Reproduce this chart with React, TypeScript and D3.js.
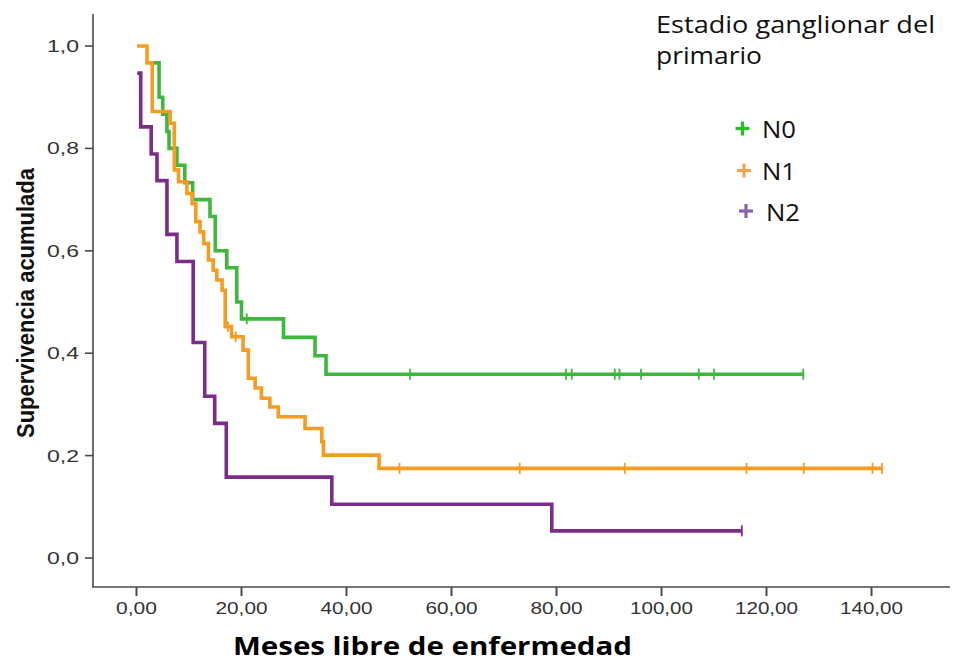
import React from "react";
import * as d3 from "d3";

// ---- data ----
const xTicks = [0, 20, 40, 60, 80, 100, 120, 140];
const yTicks = [0, 0.2, 0.4, 0.6, 0.8, 1.0];

const n0Times = [2.5, 4.3, 5.0, 5.8, 6.2, 7.7, 9.2, 10.7, 14.0, 15.0, 17.2, 19.1, 20.0, 28.0, 34.0, 36.1];
const n0Surv = [0.967, 0.9, 0.867, 0.833, 0.8, 0.767, 0.733, 0.7, 0.667, 0.6, 0.567, 0.5, 0.467, 0.431, 0.395, 0.359];
const n0Censored = [21.0, 52.1, 81.8, 82.9, 91.1, 92.0, 96.1, 107.1, 110.0, 127.0];

const n1Times = [0.1, 2.0, 3.0, 6.4, 7.2, 8.0, 9.6, 10.6, 11.3, 12.1, 12.8, 13.7, 14.6, 15.3, 16.3, 16.9, 18.1, 20.3, 21.3, 22.6, 23.8, 25.4, 27.0, 32.1, 35.3, 35.6, 46.2];
const n1Surv = [1.0, 0.967, 0.872, 0.849, 0.758, 0.735, 0.712, 0.692, 0.657, 0.637, 0.614, 0.582, 0.562, 0.543, 0.523, 0.452, 0.432, 0.406, 0.351, 0.332, 0.312, 0.295, 0.276, 0.253, 0.227, 0.201, 0.175];
const n1Censored = [17.4, 18.9, 50.1, 73.0, 93.0, 116.2, 127.1, 140.2, 142.0];

const n2Times = [0.15, 0.8, 2.8, 3.9, 5.8, 7.7, 10.8, 13.0, 14.9, 17.1, 37.2, 79.1];
const n2Surv = [0.947, 0.842, 0.789, 0.737, 0.632, 0.579, 0.421, 0.316, 0.263, 0.158, 0.105, 0.053];
const n2Censored = [115.3];

const seriesNames = ["N0", "N1", "N2"];
const lineColors = ["#3db83d", "#f59d22", "#7a2c89"];
const legendColors = ["#22c422", "#f8a84a", "#8a62a8"];

const series = [
  { times: n0Times, surv: n0Surv, cens: n0Censored },
  { times: n1Times, surv: n1Surv, cens: n1Censored },
  { times: n2Times, surv: n2Surv, cens: n2Censored },
];

// step value at t
function survAt(times: number[], surv: number[], t: number) {
  let s = surv[0];
  for (let i = 0; i < times.length; i++) if (times[i] <= t) s = surv[i];
  return s;
}

export default function App() {
  const x = d3.scaleLinear().domain([0, 140]).range([136.5, 871.5]);
  const y = d3.scaleLinear().domain([0, 1]).range([558, 46]);
  const axisColor = "#4a4a4a";
  const tickFont = "'Liberation Sans', Arial, sans-serif";
  const fmtX = (v: number) => v.toFixed(2).replace(".", ",");
  const fmtY = (v: number) => v.toFixed(1).replace(".", ",");

  const line = d3
    .line<[number, number]>()
    .x((d) => x(d[0]))
    .y((d) => y(d[1]))
    .curve(d3.curveStepAfter);

  return (
    <svg
      width={961}
      height={662}
      style={{ position: "absolute", left: 0, top: 0, background: "#fff" }}
    >
      {/* axes */}
      <line x1={93} y1={14} x2={93} y2={587} stroke={axisColor} strokeWidth={1.6} />
      <line x1={92} y1={587} x2={950} y2={587} stroke={axisColor} strokeWidth={1.6} />
      {yTicks.map((t) => (
        <g key={"y" + t}>
          <line x1={85} x2={93} y1={y(t)} y2={y(t)} stroke={axisColor} strokeWidth={1.6} />
          <text
            x={79}
            y={y(t) + 6}
            textAnchor="end"
            fontFamily={tickFont}
            fontSize={16.5}
            fill="#333"
            textLength={32}
            lengthAdjust="spacingAndGlyphs"
          >
            {fmtY(t)}
          </text>
        </g>
      ))}
      {xTicks.map((t) => {
        const lbl = fmtX(t);
        const digits = lbl.length - 1;
        return (
          <g key={"x" + t}>
            <line x1={x(t)} x2={x(t)} y1={587} y2={596} stroke={axisColor} strokeWidth={2} />
            <text
              x={x(t)}
              y={614}
              textAnchor="middle"
              fontFamily={tickFont}
              fontSize={16.5}
              fill="#333"
              textLength={11 * digits + 8}
              lengthAdjust="spacingAndGlyphs"
            >
              {lbl}
            </text>
          </g>
        );
      })}

      {/* curves */}
      {series.map((s, i) => {
        const pts: [number, number][] = s.times.map((t, j) => [t, s.surv[j]]);
        const end = Math.max(s.times[s.times.length - 1], ...s.cens);
        pts.push([end, s.surv[s.surv.length - 1]]);
        return (
          <g key={"s" + i}>
            <path d={line(pts) || ""} fill="none" stroke={lineColors[i]} strokeWidth={3.6} />
            {s.cens.map((c, k) => {
              const yy = y(survAt(s.times, s.surv, c));
              return (
                <line
                  key={k}
                  x1={x(c)}
                  x2={x(c)}
                  y1={yy - 5.5}
                  y2={yy + 5.5}
                  stroke={lineColors[i]}
                  strokeWidth={1.8}
                />
              );
            })}
          </g>
        );
      })}

      {/* axis titles */}
      <text
        transform="translate(34,303) rotate(-90)"
        textAnchor="middle"
        fontFamily="'Liberation Sans Narrow', 'Liberation Sans', Arial, sans-serif"
        fontWeight="bold"
        fontSize={23}
        fill="#111"
        textLength={270}
        lengthAdjust="spacingAndGlyphs"
      >
        Supervivencia acumulada
      </text>
      <text
        x={233}
        y={655}
        fontFamily="'Open Sans', sans-serif"
        fontWeight="bold"
        fontSize={25}
        fill="#000"
        textLength={399}
        lengthAdjust="spacingAndGlyphs"
      >
        Meses libre de enfermedad
      </text>

      {/* legend */}
      <text x={656} y={33} fontFamily="'Open Sans', sans-serif" fontSize={23} fill="#111" textLength={279} lengthAdjust="spacingAndGlyphs">
        Estadio ganglionar del
      </text>
      <text x={656} y={64} fontFamily="'Open Sans', sans-serif" fontSize={23} fill="#111" textLength={106} lengthAdjust="spacingAndGlyphs">
        primario
      </text>
      {seriesNames.map((n, i) => {
        const cy = [128.5, 170.5, 211][i];
        const cx = [742.5, 744, 746][i];
        const tx = [762, 762, 766][i];
        return (
          <g key={n}>
            <line x1={cx - 7} x2={cx + 7} y1={cy} y2={cy} stroke={legendColors[i]} strokeWidth={3.2} />
            <line x1={cx} x2={cx} y1={cy - 7} y2={cy + 7} stroke={legendColors[i]} strokeWidth={3.2} />
            <text x={tx} y={cy + 9.5} fontFamily="'Open Sans', sans-serif" fontSize={23} fill="#111" textLength={34} lengthAdjust="spacingAndGlyphs">
              {n}
            </text>
          </g>
        );
      })}
    </svg>
  );
}
